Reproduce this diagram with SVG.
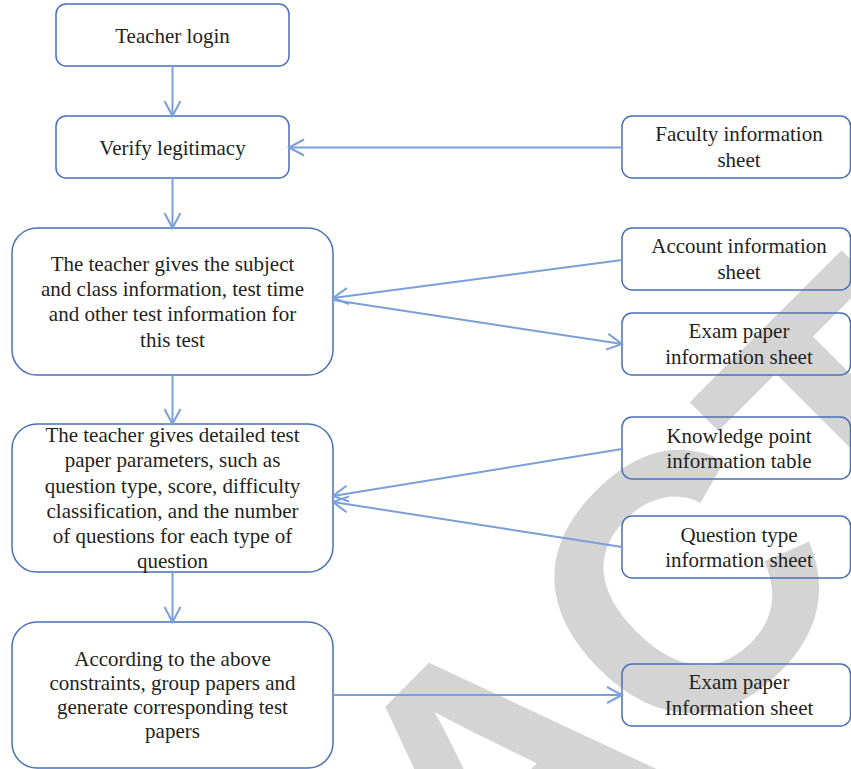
<svg xmlns="http://www.w3.org/2000/svg" width="851" height="769" viewBox="0 0 851 769">
  <style>
    .box { fill: none; stroke: #4a70b5; stroke-width: 1.5; }
    .lbl { font-family: "Liberation Serif", "Times New Roman", serif; font-size: 21px; fill: #231f20; text-anchor: middle; }
    .wire { fill: none; stroke: #7b9fd9; stroke-width: 2; marker-end: url(#arr); }
    .mark { font-family: "Liberation Sans", Arial, sans-serif; font-weight: bold; font-size: 365px; fill: #d4d4d4; }
  </style>
  <defs>
    <marker id="arr" markerWidth="20" markerHeight="20" refX="16" refY="9" orient="auto" markerUnits="userSpaceOnUse">
      <path d="M1,1 L16,9 L1,17" fill="none" stroke="#7b9fd9" stroke-width="2"/>
    </marker>
  </defs>
  <rect x="0" y="0" width="851" height="769" fill="#ffffff"/>

  <!-- diagonal stamp behind the chart -->
  <text class="mark" transform="translate(-211,1658) rotate(-45)">RETRACTED</text>

  <!-- process steps -->
  <g id="login">
    <rect class="box" x="56" y="4" width="233" height="62" rx="10"/>
    <text class="lbl" x="172.5" y="43">Teacher login</text>
  </g>
  <g id="verify">
    <rect class="box" x="56" y="116" width="233" height="62" rx="10"/>
    <text class="lbl" x="172.5" y="155">Verify legitimacy</text>
  </g>
  <g id="test-info">
    <rect class="box" x="12" y="228" width="321" height="147" rx="25"/>
    <text class="lbl" x="172.5" y="271">The teacher gives the subject</text>
    <text class="lbl" x="172.5" y="296">and class information, test time</text>
    <text class="lbl" x="172.5" y="321">and other test information for</text>
    <text class="lbl" x="172.5" y="347">this test</text>
  </g>
  <g id="paper-params">
    <rect class="box" x="12" y="424" width="321" height="148" rx="25"/>
    <text class="lbl" x="172.5" y="442">The teacher gives detailed test</text>
    <text class="lbl" x="172.5" y="467">paper parameters, such as</text>
    <text class="lbl" x="172.5" y="493">question type, score, difficulty</text>
    <text class="lbl" x="172.5" y="518">classification, and the number</text>
    <text class="lbl" x="172.5" y="543">of questions for each type of</text>
    <text class="lbl" x="172.5" y="568">question</text>
  </g>
  <g id="generate">
    <rect class="box" x="12" y="622" width="321" height="146" rx="25"/>
    <text class="lbl" x="172.5" y="666">According to the above</text>
    <text class="lbl" x="172.5" y="690">constraints, group papers and</text>
    <text class="lbl" x="172.5" y="714">generate corresponding test</text>
    <text class="lbl" x="172.5" y="738">papers</text>
  </g>

  <!-- data tables -->
  <g id="faculty-sheet">
    <rect class="box" x="622" y="116" width="228.5" height="62" rx="10"/>
    <text class="lbl" x="739" y="141">Faculty information</text>
    <text class="lbl" x="739" y="167">sheet</text>
  </g>
  <g id="account-sheet">
    <rect class="box" x="622" y="228" width="228.5" height="62" rx="10"/>
    <text class="lbl" x="739" y="253">Account information</text>
    <text class="lbl" x="739" y="279">sheet</text>
  </g>
  <g id="exam-sheet">
    <rect class="box" x="622" y="313" width="228.5" height="62" rx="10"/>
    <text class="lbl" x="739" y="338">Exam paper</text>
    <text class="lbl" x="739" y="364">information sheet</text>
  </g>
  <g id="knowledge-table">
    <rect class="box" x="622" y="417" width="228.5" height="62" rx="10"/>
    <text class="lbl" x="739" y="443">Knowledge point</text>
    <text class="lbl" x="739" y="468">information table</text>
  </g>
  <g id="qtype-sheet">
    <rect class="box" x="622" y="516" width="228.5" height="62" rx="10"/>
    <text class="lbl" x="739" y="542">Question type</text>
    <text class="lbl" x="739" y="567">information sheet</text>
  </g>
  <g id="exam-output-sheet">
    <rect class="box" x="622" y="664" width="228.5" height="62" rx="10"/>
    <text class="lbl" x="739" y="689">Exam paper</text>
    <text class="lbl" x="739" y="715">Information sheet</text>
  </g>

  <!-- connectors -->
  <g id="connectors">
    <path class="wire" d="M172.5,66 V116"/>
    <path class="wire" d="M172.5,178 V228"/>
    <path class="wire" d="M172.5,375 V424"/>
    <path class="wire" d="M172.5,572 V622"/>
    <path class="wire" d="M622,147.5 H289"/>
    <path class="wire" d="M622,260 L333,298"/>
    <path class="wire" d="M333,300 L622,344"/>
    <path class="wire" d="M622,449 L333,496"/>
    <path class="wire" d="M622,547 L333,502"/>
    <path class="wire" d="M333,695 H622"/>
  </g>
</svg>
